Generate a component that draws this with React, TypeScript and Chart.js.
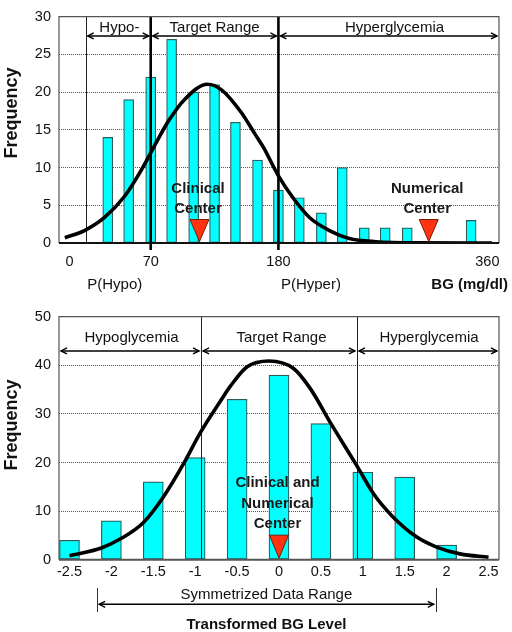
import React, { useEffect, useRef } from "react";
import { Chart, registerables } from "chart.js";

Chart.register(...registerables);

const FONT = '"Liberation Sans", Arial, Helvetica, sans-serif';

// ---------------- Top chart: BG in mg/dl ----------------
const topBinCenters = [33, 51, 70, 88, 107, 125, 143, 162, 180, 198, 217, 235, 254, 272, 291, 308, 327, 346];
const topFrequencies = [14, 19, 22, 27, 20, 21, 16, 11, 7, 6, 4, 10, 2, 2, 2, 0, 0, 3];
const topCurveX = [-4, 13, 30, 48, 62, 74, 85, 99, 119, 131, 148, 160, 167, 180, 193, 207, 224, 241, 264, 300, 364];
const topCurveY = [0.7, 1.65, 3.35, 6.3, 9.7, 13.1, 16.1, 19.0, 21.05, 20.3, 17.3, 14.4, 12.7, 8.9, 5.9, 3.35, 1.65, 0.6, 0.17, 0.02, 0];
const topXTicks = [0, 70, 180, 360];
const topThickLines = [70, 180];
const topThinLines = [14];
const topRegionBounds = [14, 70, 180, 370];
const topRegionLabels = ["Hypo-", "Target Range", "Hyperglycemia"];
const topRegionLabelX = [43, 125, 280];
const topCenterX = [112, 309.5];
const topCenterText = [["Clinical", "Center"], ["Numerical", "Center"]];
const topBelowLabels = ["P(Hypo)", "P(Hyper)"];
const topBelowLabelX = [39, 208];

// ---------------- Bottom chart: transformed BG ----------------
const botBinCenters = [-2.5, -2, -1.5, -1, -0.5, 0, 0.5, 1, 1.5, 2];
const botFrequencies = [4, 8, 16, 21, 33, 38, 28, 18, 17, 3];
const botCurveX = [-2.5, -2.12, -1.88, -1.62, -1.38, -1.14, -0.94, -0.7, -0.58, -0.38, -0.12, 0.17, 0.37, 0.62, 0.93, 1.13, 1.36, 1.64, 1.88, 2.16, 2.5];
const botCurveY = [0.8, 2.4, 4.4, 7.6, 12.9, 19.7, 26.1, 32.6, 35.7, 39.7, 40.9, 39.4, 35.3, 28.0, 19.3, 13.5, 8.8, 4.7, 2.6, 1.2, 0.5];
const botXTicks = [-2.5, -2, -1.5, -1, -0.5, 0, 0.5, 1, 1.5, 2, 2.5];
const botThinLines = [-0.93, 0.93];
const botRegionBounds = [-2.625, -0.93, 0.93, 2.625];
const botRegionLabels = ["Hypoglycemia", "Target Range", "Hyperglycemia"];
const botRegionLabelX = [-1.76, 0.03, 1.79];
const botCenterX = [0];
const botCenterText = [["Clinical and", "Numerical", "Center"]];
const botSymRange = [-2.17, 1.87];

type Spec = {
  width: number;
  height: number;
  xMin: number;
  xMax: number;
  yMax: number;
  yStep: number;
  padTop: number;
  xAxisHeight: number;
  xTickPad: number;
  binX: number[];
  freq: number[];
  curveX: number[];
  curveY: number[];
  xTicks: number[];
  barThickness: number;
  thickLines: number[];
  thinLines: number[];
  regionBounds: number[];
  regionLabels: string[];
  regionLabelX: number[];
  arrowY: number;
  labelY: number;
  centerX: number[];
  centerText: string[][];
  centerTextY: number;
  centerLineGap: number;
  triH: number;
  yTitleCenter: number;
  axisColor: string;
  extra: (chart: any, ctx: CanvasRenderingContext2D) => void;
};

function drawArrow(ctx: CanvasRenderingContext2D, x1: number, x2: number, y: number) {
  ctx.save();
  ctx.strokeStyle = "#000";
  ctx.lineWidth = 1.4;
  ctx.beginPath();
  ctx.moveTo(x1, y);
  ctx.lineTo(x2, y);
  ctx.stroke();
  ctx.beginPath();
  ctx.moveTo(x1 + 6, y - 3);
  ctx.lineTo(x1, y);
  ctx.lineTo(x1 + 6, y + 3);
  ctx.moveTo(x2 - 6, y - 3);
  ctx.lineTo(x2, y);
  ctx.lineTo(x2 - 6, y + 3);
  ctx.stroke();
  ctx.restore();
}

function makeConfig(spec: Spec): any {
  const annot = {
    id: "annot",
    beforeDatasetDraw(chart: any, args: any) {
      if (args.index !== 0) return;
      const { ctx, chartArea } = chart;
      const xs = chart.scales.x;
      ctx.save();
      ctx.strokeStyle = "#222";
      ctx.lineWidth = 1;
      spec.thinLines.forEach((v) => {
        const px = Math.round(xs.getPixelForValue(v)) + 0.5;
        ctx.beginPath();
        ctx.moveTo(px, chartArea.top);
        ctx.lineTo(px, chartArea.bottom);
        ctx.stroke();
      });
      ctx.strokeStyle = "#000";
      ctx.lineWidth = 2.6;
      spec.thickLines.forEach((v) => {
        const px = xs.getPixelForValue(v);
        ctx.beginPath();
        ctx.moveTo(px, chartArea.top);
        ctx.lineTo(px, chartArea.bottom + 7);
        ctx.stroke();
      });
      ctx.restore();
    },
    afterDatasetsDraw(chart: any) {
      const { ctx, chartArea } = chart;
      ctx.save();
      ctx.strokeStyle = "#555";
      ctx.lineWidth = 1.2;
      ctx.beginPath();
      ctx.moveTo(chartArea.left, chartArea.bottom);
      ctx.lineTo(chartArea.left, chartArea.top);
      ctx.lineTo(chartArea.right, chartArea.top);
      ctx.lineTo(chartArea.right, chartArea.bottom);
      ctx.stroke();
      ctx.strokeStyle = spec.axisColor;
      ctx.lineWidth = 2;
      ctx.beginPath();
      ctx.moveTo(chartArea.left, chartArea.bottom);
      ctx.lineTo(chartArea.right, chartArea.bottom);
      ctx.stroke();
      ctx.restore();
    },
    afterDraw(chart: any) {
      const { ctx } = chart;
      const xs = chart.scales.x;
      const ys = chart.scales.y;
      ctx.save();
      // region arrows and labels
      const ay = ys.getPixelForValue(spec.arrowY);
      const ly = ys.getPixelForValue(spec.labelY);
      ctx.font = `15px ${FONT}`;
      ctx.fillStyle = "#111";
      ctx.textAlign = "center";
      ctx.textBaseline = "middle";
      spec.regionLabels.forEach((lab, i) => {
        const x1 = xs.getPixelForValue(spec.regionBounds[i]) + 2;
        const x2 = xs.getPixelForValue(spec.regionBounds[i + 1]) - 2;
        drawArrow(ctx, x1, x2, ay);
        ctx.fillText(lab, xs.getPixelForValue(spec.regionLabelX[i]), ly);
      });
      // centers: triangles and bold text
      const y0 = ys.getPixelForValue(0);
      spec.centerX.forEach((cx, i) => {
        const px = xs.getPixelForValue(cx);
        const tip = y0 - 1.5;
        ctx.beginPath();
        ctx.moveTo(px - 9.5, tip - spec.triH);
        ctx.lineTo(px + 9.5, tip - spec.triH);
        ctx.lineTo(px, tip);
        ctx.closePath();
        ctx.fillStyle = "#FF3311";
        ctx.fill();
        ctx.strokeStyle = "#7a1a00";
        ctx.lineWidth = 1;
        ctx.stroke();
        ctx.font = `bold 15px ${FONT}`;
        ctx.fillStyle = "#1a1a1a";
        const ty = ys.getPixelForValue(spec.centerTextY);
        spec.centerText[i].forEach((line, j) => {
          ctx.fillText(line, px - 1.5, ty + j * spec.centerLineGap);
        });
      });
      // y-axis title
      ctx.save();
      ctx.translate(17, spec.yTitleCenter);
      ctx.rotate(-Math.PI / 2);
      ctx.font = `bold 18px ${FONT}`;
      ctx.fillStyle = "#111";
      ctx.textAlign = "center";
      ctx.textBaseline = "alphabetic";
      ctx.fillText("Frequency", 0, 0);
      ctx.restore();
      spec.extra(chart, ctx);
      ctx.restore();
    },
  };

  return {
    type: "bar",
    data: {
      datasets: [
        {
          type: "line",
          data: spec.curveX.map((x, i) => ({ x, y: spec.curveY[i] })),
          borderColor: "#000",
          borderWidth: 3.6,
          pointRadius: 0,
          cubicInterpolationMode: "monotone",
          fill: false,
          order: 0,
        },
        {
          type: "bar",
          data: spec.binX.map((x, i) => ({ x, y: spec.freq[i] })),
          backgroundColor: "#00FFFF",
          borderColor: "#2E5A5A",
          borderWidth: 1.2,
          borderSkipped: false,
          barThickness: spec.barThickness,
          order: 1,
        },
      ],
    },
    options: {
      responsive: false,
      maintainAspectRatio: false,
      animation: false,
      devicePixelRatio: 1,
      layout: { padding: { left: 0, right: 13, top: spec.padTop, bottom: 0 } },
      plugins: { legend: { display: false }, tooltip: { enabled: false }, title: { display: false } },
      scales: {
        x: {
          type: "linear",
          min: spec.xMin,
          max: spec.xMax,
          offset: false,
          grid: { display: false, drawTicks: false },
          border: { display: false },
          afterBuildTicks: (axis: any) => {
            axis.ticks = spec.xTicks.map((v) => ({ value: v }));
          },
          afterFit: (axis: any) => {
            axis.height = spec.xAxisHeight;
          },
          ticks: {
            autoSkip: false,
            maxRotation: 0,
            padding: spec.xTickPad,
            color: "#111",
            font: { family: FONT, size: 14.5 },
            callback: (v: any) => String(v),
          },
        },
        y: {
          type: "linear",
          min: 0,
          max: spec.yMax,
          grid: { color: "#555", lineWidth: 1, drawTicks: false },
          border: { display: false, dash: [1, 1] },
          afterFit: (axis: any) => {
            axis.width = 59;
          },
          ticks: {
            stepSize: spec.yStep,
            padding: 8,
            color: "#111",
            font: { family: FONT, size: 14.5 },
          },
        },
      },
    },
    plugins: [annot],
  };
}

const topSpec: Spec = {
  width: 512,
  height: 300,
  xMin: -9,
  xMax: 370,
  yMax: 30,
  yStep: 5,
  padTop: 8,
  xAxisHeight: 57,
  xTickPad: 10,
  binX: topBinCenters,
  freq: topFrequencies,
  curveX: topCurveX,
  curveY: topCurveY,
  xTicks: topXTicks,
  barThickness: 10,
  thickLines: topThickLines,
  thinLines: topThinLines,
  regionBounds: topRegionBounds,
  regionLabels: topRegionLabels,
  regionLabelX: topRegionLabelX,
  arrowY: 27.45,
  labelY: 28.5,
  centerX: topCenterX,
  centerText: topCenterText,
  centerTextY: 7.15,
  centerLineGap: 20,
  triH: 22,
  yTitleCenter: 113,
  axisColor: "#111",
  extra: (chart, ctx) => {
    const xs = chart.scales.x;
    ctx.font = `15px ${FONT}`;
    ctx.fillStyle = "#111";
    ctx.textAlign = "center";
    ctx.textBaseline = "middle";
    topBelowLabels.forEach((t, i) => ctx.fillText(t, xs.getPixelForValue(topBelowLabelX[i]), 285));
    ctx.font = `bold 15px ${FONT}`;
    ctx.textAlign = "right";
    ctx.fillText("BG (mg/dl)", 508, 285);
  },
};

const botSpec: Spec = {
  width: 512,
  height: 332,
  xMin: -2.625,
  xMax: 2.625,
  yMax: 50,
  yStep: 10,
  padTop: 14.7,
  xAxisHeight: 72.3,
  xTickPad: 3.3,
  binX: botBinCenters,
  freq: botFrequencies,
  curveX: botCurveX,
  curveY: botCurveY,
  xTicks: botXTicks,
  barThickness: 20,
  thickLines: [],
  thinLines: botThinLines,
  regionBounds: botRegionBounds,
  regionLabels: botRegionLabels,
  regionLabelX: botRegionLabelX,
  arrowY: 42.95,
  labelY: 45.7,
  centerX: botCenterX,
  centerText: botCenterText,
  centerTextY: 15.8,
  centerLineGap: 20.5,
  triH: 23,
  yTitleCenter: 125,
  axisColor: "#555",
  extra: (chart, ctx) => {
    const xs = chart.scales.x;
    const x1 = xs.getPixelForValue(botSymRange[0]);
    const x2 = xs.getPixelForValue(botSymRange[1]);
    const mid = xs.getPixelForValue((botSymRange[0] + botSymRange[1]) / 2);
    ctx.strokeStyle = "#333";
    ctx.lineWidth = 1;
    [x1, x2].forEach((x) => {
      ctx.beginPath();
      ctx.moveTo(Math.round(x) + 0.5, 288);
      ctx.lineTo(Math.round(x) + 0.5, 312);
      ctx.stroke();
    });
    drawArrow(ctx, x1 + 2, x2 - 2, 304.3);
    ctx.font = `15px ${FONT}`;
    ctx.fillStyle = "#111";
    ctx.textAlign = "center";
    ctx.textBaseline = "middle";
    ctx.fillText("Symmetrized Data Range", mid, 295);
    ctx.font = `bold 15px ${FONT}`;
    ctx.fillText("Transformed BG Level", mid, 325);
  },
};

function HistChart({ spec }: { spec: Spec }) {
  const ref = useRef<HTMLCanvasElement | null>(null);
  useEffect(() => {
    if (!ref.current) return;
    const chart = new Chart(ref.current, makeConfig(spec));
    return () => chart.destroy();
  }, [spec]);
  return (
    <canvas
      ref={ref}
      width={spec.width}
      height={spec.height}
      style={{ display: "block", width: spec.width, height: spec.height }}
    />
  );
}

export default function App() {
  return (
    <div style={{ position: "absolute", left: 0, top: 0, width: 512, height: 632, background: "#fff" }}>
      <HistChart spec={topSpec} />
      <HistChart spec={botSpec} />
    </div>
  );
}
